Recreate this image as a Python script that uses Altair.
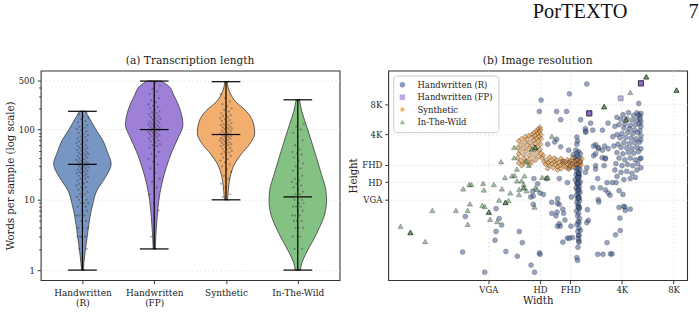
import altair as alt
import pandas as pd

# ---------------- data ----------------
cats = ["Handwritten (R)", "Handwritten (FP)", "Synthetic", "In-The-Wild"]
left_labels = ["Handwritten\n(R)", "Handwritten\n(FP)", "Synthetic", "In-The-Wild"]
positions = [1, 2, 3, 4]
violin_colors = ["#7896C4", "#9E80D8", "#F2AE6E", "#84C284"]

# violin outlines: words value and relative half-width
hr_prof_words = [1, 1.26, 1.9, 3.3, 5.6, 8.7, 13.5, 20.9, 32.4, 49, 69, 95.5, 132, 182]
hr_prof_width = [0.03, 0.05, 0.1, 0.18, 0.26, 0.36, 0.5, 0.8, 1.0, 0.86, 0.72, 0.5, 0.3, 0.1]
fp_prof_words = [2, 3.3, 5.6, 9.8, 16.6, 28.8, 49, 76, 117, 182, 309, 417, 490]
fp_prof_width = [0.035, 0.06, 0.1, 0.16, 0.26, 0.42, 0.62, 0.83, 1.0, 0.92, 0.68, 0.5, 0.25]
syn_prof_words = [10, 13.5, 20.9, 32.4, 44.7, 61.7, 89, 132, 182, 251, 347, 479]
syn_prof_width = [0.05, 0.08, 0.14, 0.3, 0.53, 0.82, 1.0, 0.93, 0.71, 0.33, 0.12, 0.04]
itw_prof_words = [1, 1.26, 1.74, 2.63, 4.07, 6.3, 9.8, 13.5, 23.4, 39.8, 69, 117, 182, 263]
itw_prof_width = [0.09, 0.14, 0.29, 0.53, 0.76, 0.94, 1.0, 0.98, 0.82, 0.65, 0.47, 0.29, 0.14, 0.06]

# samples (words per sample)
hr_words = [1, 2, 2, 3, 3, 3, 3, 4, 4, 4, 5, 5, 6, 6, 6, 7, 7, 8, 8, 9, 9, 9, 10, 10, 11, 11,
            12, 12, 13, 14, 14, 15, 15, 16, 17, 17, 18, 18, 19, 20, 20, 21, 22, 22, 23, 24, 24,
            25, 25, 26, 27, 27, 28, 28, 29, 30, 30, 31, 31, 32, 32, 33, 33, 34, 35, 35, 36, 37,
            38, 39, 40, 41, 42, 43, 44, 45, 46, 47, 48, 50, 51, 52, 54, 55, 57, 58, 60, 62, 64,
            66, 68, 70, 72, 75, 78, 80, 83, 86, 90, 94, 98, 102, 106, 110, 115, 120, 126, 132,
            140, 148, 155, 165, 175, 182]
fp_words = [2, 3, 7, 9, 12, 15, 18, 20, 24, 28, 32, 35, 38, 42, 45, 48, 52, 55, 58, 60, 62, 65,
            68, 70, 72, 75, 78, 80, 82, 84, 86, 88, 90, 92, 94, 96, 98, 100, 100, 102, 104, 106,
            108, 110, 112, 115, 118, 120, 122, 125, 128, 130, 134, 138, 142, 146, 150, 155, 160,
            165, 170, 175, 180, 190, 200, 210, 220, 230, 245, 260, 280, 300, 320, 350, 380, 420,
            460, 490]
syn_words = [10, 11, 12, 15, 17, 20, 22, 25, 27, 30, 32, 34, 36, 38, 40, 42, 44, 45, 47, 48, 50,
             52, 53, 55, 56, 58, 60, 61, 62, 64, 65, 66, 68, 70, 71, 72, 74, 75, 76, 78, 80, 81,
             82, 84, 85, 86, 88, 90, 92, 94, 95, 97, 100, 102, 104, 106, 108, 110, 113, 116, 118,
             120, 124, 128, 132, 136, 140, 145, 150, 155, 160, 165, 170, 180, 190, 200, 215, 230,
             250, 280, 320, 480]
itw_words = [1, 2, 2, 3, 3, 3, 4, 4, 4, 5, 5, 5, 6, 6, 6, 7, 7, 8, 8, 8, 9, 9, 10, 10, 11, 11,
             12, 12, 13, 14, 15, 16, 17, 18, 19, 20, 22, 24, 26, 28, 30, 33, 36, 40, 44, 46, 48,
             52, 60, 70, 80, 90, 100, 110, 120, 266]

medians = [32, 100, 85, 11]
mins = [1, 2, 10, 1]
maxs = [182, 490, 480, 265]

y_major = [1, 10, 100, 500]
y_minor = [2, 3, 4, 5, 6, 7, 8, 9, 20, 30, 40, 50, 60, 70, 80, 90, 200, 300, 400]

# ---- image resolution scatter (width, height in px) ----
hr_w = [2400, 1900, 1300, 1270, 1600, 1830, 1690, 2210, 3190, 2960, 2600, 2350, 2360, 2100, 2120,
        2100, 1600, 1560, 1420, 1690, 1880, 2070, 2000, 2050, 2700, 2960, 3050, 2800, 2630, 2950,
        2700, 3080, 3030, 1900, 2400, 2150, 2525, 2370, 2630, 2800, 3200, 2700, 3080, 2700, 2360,
        2780, 3150, 3380, 3560, 3080, 3200, 3280, 3700, 3900, 2600, 2880, 2800, 2820, 3700, 3940,
        4000, 4300, 4020, 3740, 3760, 3530, 3150, 3300, 2780, 2980, 3370, 2450, 2420, 2400, 2160,
        2200, 2160, 2160, 2100, 2120, 1980, 1850, 1900, 1740, 1940, 1790, 1620, 1680, 1585, 1760,
        1610, 1620, 1660, 1500, 1500, 1660, 1850, 1950, 1620, 1660, 1740, 1280, 1180, 1240, 1160,
        1170, 1170, 1280, 1130, 1340, 1400, 1270, 1190, 1136, 970, 1010, 945, 810, 710, 700, 765,
        740, 710, 610, 453, 470, 1750, 1900, 2000,
        4960, 4900, 4780, 4500, 4200, 3900, 3600, 3800, 4100, 4400, 4700, 4950, 4850, 4600, 4300,
        4000, 3700, 3500, 3950, 4250, 4550, 4900, 4750, 4450, 4150, 3850, 3600, 3400, 3750, 4050,
        4350, 4650, 4950, 4850, 4550, 4250, 3950, 3650, 3450, 3800, 4100, 4400, 4700, 4960, 4800,
        4500, 4200, 3900, 3600, 3700, 4000, 4300, 4600, 4900, 4750, 4450, 4150, 3850, 3550, 3500,
        3800, 4100, 4400, 4700, 4960, 4600, 4300, 3950, 3600, 4960, 4960, 4960, 4900, 4700, 4820,
        2150, 2100, 2200, 2120, 2180, 2080, 2150, 2200, 2100, 2160, 2060, 2130, 2190, 2100, 2150,
        2080, 2170, 2120, 2060, 2150, 2200, 2100, 2130, 2170, 2080, 2150, 2110, 2190, 2140, 2090,
        2160, 2120, 2180, 2100, 2150, 2130, 2170, 2090, 2150, 2120, 2180, 2140, 2100, 2160, 2130,
        2150, 2140, 2160, 2130, 2150, 2150, 2130, 2130, 2150, 2150, 2160, 2160, 2150, 2140]
hr_h = [6900, 5500, 4760, 3660, 3660, 3660, 3030, 3030, 2800, 2380, 2380, 2460, 2270, 2030, 1850,
        1720, 1930, 1810, 1720, 1620, 1500, 1500, 1350, 1260, 1700, 1500, 1650, 1550, 1320, 1260,
        1050, 1250, 1050, 1000, 1000, 830, 2800, 2330, 1650, 1600, 1550, 1380, 1230, 970, 900,
        780, 710, 710, 710, 600, 560, 530, 590, 540, 630, 630, 480, 455, 400, 410,
        405, 385, 374, 313, 235, 213, 178, 137, 136, 136, 137, 297, 380, 282, 280,
        236, 210, 185, 126, 118, 200, 197, 197, 180, 260, 300, 260, 260, 330, 350,
        360, 440, 430, 450, 350, 780, 710, 510, 490, 275, 385, 136, 780, 690, 580,
        520, 430, 560, 510, 540, 780, 140, 90, 106, 230, 178, 130, 145, 230, 188, 267,
        310, 390, 90, 143, 325, 1150, 1150, 1100,
        3500, 3300, 3400, 3350, 3560, 3400, 3200, 3050, 3100, 3000, 3020, 2900, 2750, 2700, 2650,
        2750, 2700, 2600, 2500, 2450, 2400, 2350, 2250, 2200, 2250, 2200, 2150, 2050, 2000, 2000,
        1980, 1950, 1900, 1800, 1780, 1750, 1780, 1720, 1650, 1600, 1580, 1560, 1600, 1550, 1450,
        1400, 1420, 1380, 1420, 1250, 1200, 1250, 1200, 1230, 1100, 1050, 1080, 1050, 1100, 950,
        900, 920, 880, 950, 1000, 800, 780, 760, 820, 1250, 2100, 2600, 3100, 3550, 4400,
        1450, 1400, 1380, 1300, 1250, 1200, 1150, 1120, 1080, 1040, 1000, 980, 950, 920, 880,
        850, 820, 790, 760, 740, 720, 700, 670, 650, 630, 610, 590, 570, 550, 530,
        510, 490, 470, 450, 430, 410, 390, 370, 350, 330, 310, 290, 270, 250, 230,
        210, 195, 180, 160, 880, 880, 700, 700, 500, 500, 400, 400, 600, 800]

fp_w = [4960, 4960, 4960, 4960, 4960, 3780, 2480, 2480, 2480, 2480, 2480]
fp_h = [7016, 7016, 7016, 7016, 7016, 4960, 3508, 3508, 3508, 3508, 3508]

syn_w = [1280, 1250, 1290, 1220, 1270, 1180, 1240, 1300, 1150, 1200, 1100, 1260, 1050, 1150, 1220,
         1300, 1000, 1080, 1180, 1250, 960, 1040, 1120, 1200, 1290, 990, 1080, 1160, 1240, 950,
         1030, 1110, 1200, 1280, 980, 1060, 1140, 1230, 1300, 960, 1020, 1100, 1180, 1260, 950,
         1040, 1120, 1210, 990, 1070, 1150, 960, 1030, 1110, 1000,
         1320, 1350, 1380, 1400, 1430, 1450, 1480, 1500, 1530, 1560, 1580, 1600, 1620, 1650, 1680,
         1700, 1720, 1750, 1780, 1800, 1830, 1860, 1900, 1920, 1950, 1980, 2000, 2050, 2080, 2120,
         2150, 2200, 2250, 2220, 1420, 1620, 1880, 1340, 1460, 1550, 1700, 1850, 1990]
syn_h = [2550, 2450, 2400, 2350, 2300, 2250, 2200, 2150, 2150, 2100, 2100, 2050, 2050, 2000, 1980,
         1950, 1950, 1920, 1880, 1850, 1850, 1800, 1780, 1750, 1720, 1700, 1680, 1650, 1620, 1600,
         1580, 1560, 1540, 1520, 1480, 1460, 1440, 1420, 1400, 1380, 1350, 1330, 1310, 1290, 1260,
         1240, 1220, 1200, 1180, 1160, 1140, 1120, 1100, 1080, 1050,
         1250, 1150, 1080, 1200, 1120, 1050, 1180, 1100, 1000, 1150, 1080, 1200, 1020, 1120, 1060,
         980, 1180, 1100, 1040, 1150, 1000, 1080, 1130, 1040, 1180, 1090, 1020, 1150, 1080, 1200,
         1100, 1160, 1230, 1060, 980, 950, 970, 1330, 1280, 1250, 1240, 1210, 1260]

itw_w = [197, 225, 225, 225, 274, 302, 414, 457, 496, 510, 500, 485, 485, 597, 603, 590, 610, 645,
         645, 645, 655, 690, 740, 768, 720, 760, 800, 806, 806, 806, 840, 860, 880, 910, 905, 905,
         940, 1000, 965, 1040, 1030, 1030, 1030, 1100, 1200, 1230, 1200, 1200, 1200, 1150, 1320,
         1400, 1420, 1500, 1070, 970, 940, 1060, 1190, 3030, 3030, 3030, 4300, 5330, 5330, 5330,
         8000, 8000, 8000, 4060, 4060, 4060]
itw_h = [260, 225, 225, 225, 183, 375, 375, 615, 680, 680, 435, 375, 272, 700, 600, 420, 410, 360,
         360, 360, 305, 680, 475, 615, 290, 1150, 800, 450, 450, 450, 470, 560, 830, 840, 1260, 1600,
         740, 740, 540, 830, 680, 630, 630, 1060, 630, 610, 1600, 1600, 1600, 1540, 800,
         790, 800, 2070, 590, 610, 970, 1170, 405, 4100, 4100, 4100, 5680, 8150, 8150, 8150,
         6000, 6000, 6000, 3030, 3030, 3030]

scatter_colors = ["#3D5A9A", "#8E6CCF", "#E8891F", "#5E9E5E"]
scatter_shapes = ["circle", "square", "diamond", "triangle-up"]
scatter_opacity = [0.55, 0.6, 0.9, 0.55]
scatter_size = [24, 26, 34, 26]

x_tick_vals = [640, 1280, 1920, 3840, 7680]
x_tick_text = ["VGA", "HD", "FHD", "4K", "8K"]
y_tick_vals = [480, 720, 1080, 2160, 4320]
y_tick_text = ["VGA", "HD", "FHD", "4K", "8K"]

header_text = "PorTEXTO"
header_page = "7"

# ---------------- tables ----------------
profiles = [(hr_prof_words, hr_prof_width), (fp_prof_words, fp_prof_width),
            (syn_prof_words, syn_prof_width), (itw_prof_words, itw_prof_width)]
samples = [hr_words, fp_words, syn_words, itw_words]

prof_rows = []
for c, p, (vals, wid) in zip(cats, positions, profiles):
    for v, w in zip(vals, wid):
        prof_rows.append({"cat": c, "pos": p, "value": v, "w": w})
prof_df = pd.DataFrame(prof_rows)

pt_rows = []
for c, p, vals in zip(cats, positions, samples):
    for v in vals:
        pt_rows.append({"cat": c, "pos": p, "value": v})
pt_df = pd.DataFrame(pt_rows)

stat_df = pd.DataFrame({"cat": cats, "pos": positions, "vmin": mins, "vmax": maxs, "vmed": medians})

sc_rows = []
for c, ws, hs in zip(cats, [hr_w, fp_w, syn_w, itw_w], [hr_h, fp_h, syn_h, itw_h]):
    for w, h in zip(ws, hs):
        sc_rows.append({"cat": c, "w": w, "h": h})
sc_df = pd.DataFrame(sc_rows)

# ---------------- left panel ----------------
FONT = "DejaVu Serif"
yscale = alt.Scale(type="log", domain=[0.72, 690], nice=False)
xscale = alt.Scale(domain=[0.419, 4.582], nice=False, zero=False)

major_test = "indexof(" + str(y_major) + ", datum.value) >= 0"
lab_arr = "[" + ",".join("'" + s.replace("\n", "|") + "'" for s in left_labels) + "]"

y_axis_left = alt.Axis(
    values=sorted(y_major + y_minor),
    labelExpr=major_test + " ? format(datum.value, 'd') : ''",
    tickSize={"condition": {"test": major_test, "value": 3.5}, "value": 2},
    gridOpacity={"condition": {"test": major_test, "value": 1}, "value": 0},
    grid=True,
    title="Words per sample (log scale)",
    titlePadding=3,
    labelFontSize=8.5,
)
x_axis_left = alt.Axis(
    values=positions,
    labelExpr="split(" + lab_arr + "[round(datum.value) - 1], '|')",
    grid=False,
    title=None,
    labelLineHeight=10,
    labelPadding=5,
    labelFontSize=9,
)

violins = alt.Chart(prof_df).transform_calculate(
    lo="datum.pos - 0.4 * datum.w", hi="datum.pos + 0.4 * datum.w"
).mark_area(orient="horizontal", interpolate="monotone", stroke="#3a3a3a",
            strokeWidth=0.8, opacity=1).encode(
    y=alt.Y("value:Q", scale=yscale, axis=y_axis_left),
    x=alt.X("lo:Q", scale=xscale, axis=x_axis_left),
    x2="hi:Q",
    color=alt.Color("cat:N", scale=alt.Scale(domain=cats, range=violin_colors), legend=None),
    detail="cat:N",
)

points = alt.Chart(pt_df).transform_window(
    idx="row_number()", groupby=["cat"]
).transform_calculate(
    xj="datum.pos + ((datum.idx * 0.6180339887) % 1 - 0.5) * 0.17"
).mark_circle(size=5, color="#222222", opacity=0.35).encode(
    x=alt.X("xj:Q", scale=xscale),
    y=alt.Y("value:Q", scale=yscale),
)

vlines = alt.Chart(stat_df).mark_rule(color="black", strokeWidth=1.2).encode(
    x=alt.X("pos:Q", scale=xscale),
    y=alt.Y("vmin:Q", scale=yscale),
    y2="vmax:Q",
)

caps = alt.Chart(stat_df).transform_fold(
    ["vmin", "vmax", "vmed"], as_=["kind", "v"]
).transform_calculate(
    lo="datum.pos - 0.2", hi="datum.pos + 0.2"
).mark_rule(color="black", strokeWidth=1.2).encode(
    x=alt.X("lo:Q", scale=xscale),
    x2="hi:Q",
    y=alt.Y("v:Q", scale=yscale),
)

left = alt.layer(violins, points, vlines, caps).properties(
    width=301, height=211, title="(a) Transcription length"
)

# ---------------- right panel ----------------
def lab_expr(vals, texts):
    e = "''"
    for v, t in reversed(list(zip(vals, texts))):
        e = "datum.value == " + str(v) + " ? '" + t + "' : (" + e + ")"
    return e

legend = alt.Legend(
    title=None, orient="top-left", offset=5, padding=5,
    fillColor="rgba(255,255,255,0.85)", strokeColor="#cccccc", cornerRadius=3,
    labelFont=FONT, labelFontSize=8.5, labelColor="#222222", symbolSize=30,
    rowPadding=3.5, labelOffset=11, symbolStrokeWidth=0.6, symbolStrokeColor="#222222",
    symbolOpacity=0.6,
)

right = alt.Chart(sc_df).mark_point(
    filled=True, stroke="#1a1a1a", strokeWidth=0.6
).encode(
    x=alt.X("w:Q", scale=alt.Scale(type="log", domain=[167, 9220], nice=False),
            axis=alt.Axis(values=x_tick_vals, labelExpr=lab_expr(x_tick_vals, x_tick_text),
                          title="Width", grid=True, titlePadding=2, labelPadding=2,
                          labelFontSize=8.5)),
    y=alt.Y("h:Q", scale=alt.Scale(type="log", domain=[75, 9400], nice=False),
            axis=alt.Axis(values=y_tick_vals, labelExpr=lab_expr(y_tick_vals, y_tick_text),
                          title="Height", grid=True, titlePadding=3, labelFontSize=8.5)),
    color=alt.Color("cat:N", scale=alt.Scale(domain=cats, range=scatter_colors), legend=legend),
    shape=alt.Shape("cat:N", scale=alt.Scale(domain=cats, range=scatter_shapes), legend=legend),
    opacity=alt.Opacity("cat:N", scale=alt.Scale(domain=cats, range=scatter_opacity), legend=None),
    size=alt.Size("cat:N", scale=alt.Scale(domain=cats, range=scatter_size), legend=None),
).properties(width=301, height=211, title="(b) Image resolution")

chart = alt.hconcat(left, right, spacing=7).resolve_scale(
    color="independent", shape="independent"
).properties(
    title=alt.TitleParams(
        text=header_text + "\u00a0" * 12 + header_page, anchor="end", font="Liberation Serif",
        fontSize=20.5, fontWeight="normal", color="#111111", offset=33, dx=11,
    ),
    padding={"left": 4, "top": 0, "right": 0, "bottom": 3},
).configure_view(
    stroke="#333333", strokeWidth=1.1
).configure_axis(
    domain=False, labelFont=FONT, titleFont=FONT, labelFontSize=8.5, titleFontSize=10.2,
    titleFontWeight="normal", tickColor="#333333", labelColor="#222222", titleColor="#222222",
    tickSize=3.5, gridColor="#dddddd", gridDash=[2, 2], gridWidth=0.7, labelPadding=3,
).configure_legend(
    labelFont=FONT, labelFontSize=8.5, labelColor="#222222"
).configure_title(
    font=FONT, fontSize=10.7, fontWeight="normal", color="#222222", offset=3.5
)

chart.save("out.html", embed_options={"renderer": "svg", "actions": False})
